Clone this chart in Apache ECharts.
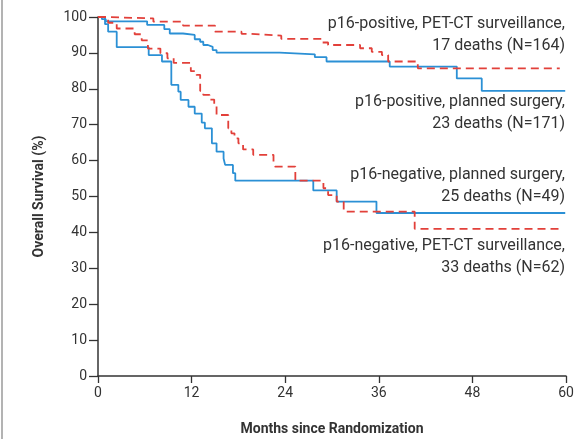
<!DOCTYPE html>
<html>
<head>
<meta charset="utf-8">
<script src="https://cdn.jsdelivr.net/npm/echarts@6/dist/echarts.min.js"></script>
<style>
	html, body { margin: 0; padding: 0; background: #fff; }
	#main { width: 577px; height: 439px; }
</style>
</head>
<body>
<div id="main"></div>
<script>
// x ticks and y ticks
var monthTicks = [0, 12, 24, 36, 48, 60];
var survTicks = [0, 10, 20, 30, 40, 50, 60, 70, 80, 90, 100];

// p16-positive, PET-CT surveillance (red dashed, upper)
var posPetMonths = [0, 1.0, 7.1, 10.9, 15.0, 18.4, 19.5, 23.5, 28.7, 29.5, 33.6, 35.1, 36.4, 37.2, 41.0, 59.2];
var posPetSurv = [100, 99.6, 98.7, 97.6, 95.9, 95.3, 94.8, 93.9, 92.9, 92.2, 91.3, 90.3, 89.4, 87.6, 85.7, 85.7];

// p16-positive, planned surgery (blue solid, upper)
var posSurgMonths = [0, 0.5, 1.0, 6.3, 8.5, 9.2, 10.9, 12.4, 13.1, 13.5, 14.1, 14.7, 15.2, 23.3, 27.8, 29.3, 37.4, 46.0, 49.2, 59.9];
var posSurgSurv = [100, 99.4, 98.8, 97.8, 96.6, 95.4, 95.0, 93.8, 93.1, 92.2, 91.7, 90.8, 90.1, 89.6, 88.8, 87.6, 86.2, 82.9, 79.4, 79.4];

// p16-negative, planned surgery (blue solid, lower)
var negSurgMonths = [0, 0.9, 1.3, 2.4, 6.5, 8.2, 9.4, 10.3, 10.6, 11.6, 12.4, 13.3, 13.7, 14.6, 15.2, 16.1, 16.3, 17.3, 17.6, 27.6, 30.6, 35.7, 59.9];
var negSurgSurv = [100, 98.0, 95.9, 91.6, 89.4, 87.6, 81.1, 79.2, 76.9, 75.0, 73.1, 70.6, 69.0, 64.8, 62.5, 60.6, 58.8, 56.5, 54.4, 51.7, 48.6, 45.4, 45.4];

// p16-negative, PET-CT surveillance (red dashed, lower)
var negPetMonths = [0, 1.3, 2.4, 4.7, 5.6, 6.4, 8.0, 8.9, 9.7, 11.9, 12.6, 13.1, 13.5, 14.3, 14.9, 15.2, 16.7, 17.1, 17.5, 18.0, 18.6, 19.9, 22.5, 22.7, 25.3, 28.9, 29.5, 30.6, 31.5, 40.6, 59.2];
var negPetSurv = [100, 98.4, 96.8, 95.2, 93.5, 91.2, 89.9, 88.5, 87.2, 84.9, 83.9, 79.4, 78.3, 77.0, 75.2, 72.7, 69.0, 67.6, 66.2, 64.8, 63.1, 61.6, 59.7, 58.3, 54.4, 52.3, 50.4, 48.6, 45.8, 41.0, 41.0];

var seriesLabels = [
	['p16-positive, PET-CT surveillance,', '17 deaths (N=164)'],
	['p16-positive, planned surgery,', '23 deaths (N=171)'],
	['p16-negative, planned surgery,', '25 deaths (N=49)'],
	['p16-negative, PET-CT surveillance,', '33 deaths (N=62)']
];

var RED = '#e2403a';
var BLUE = '#2b90d5';
var FONT = 'Roboto, "Noto Sans", sans-serif';

function pairs(xs, ys) {
	var out = [];
	for (var i = 0; i < xs.length; i++) out.push([xs[i], ys[i]]);
	return out;
}

function kmSeries(name, xs, ys, color, dashed) {
	return {
		name : name,
		type : 'line',
		step : 'end',
		symbol : 'none',
		silent : true,
		animation : false,
		data : pairs(xs, ys),
		lineStyle : {
			color : color,
			width : 1.8,
			type : dashed ? [8, 5] : 'solid'
		},
		z : dashed ? 3 : 2
	};
}

// one right-aligned text per line, anchored at the right edge of the plot
function labelLines(lines, y) {
	var out = [];
	for (var i = 0; i < lines.length; i++) {
		out.push({
			type : 'text',
			x : 565,
			y : y + i * 22,
			style : {
				text : lines[i],
				font : '16px ' + FONT,
				fill : '#333',
				align : 'right',
				verticalAlign : 'middle'
			}
		});
	}
	return out;
}

var graphics = [
	// figure frame on the left edge
	{
		type : 'line',
		shape : { x1 : 2, y1 : 0, x2 : 2, y2 : 439 },
		style : { stroke : '#9a9a9a', lineWidth : 1.5 }
	}
].concat(labelLines(seriesLabels[0], 24), labelLines(seriesLabels[1], 102),
	labelLines(seriesLabels[2], 175), labelLines(seriesLabels[3], 246));

var chart = echarts.init(document.getElementById('main'));
var option = {
	backgroundColor : '#fff',
	grid : {
		left : 98,
		right : 11,
		top : 17,
		bottom : 63,
		outerBoundsMode : 'none'
	},
	xAxis : {
		type : 'value',
		min : monthTicks[0],
		max : monthTicks[monthTicks.length - 1],
		interval : 12,
		name : 'Months since Randomization',
		nameLocation : 'middle',
		nameGap : 46,
		nameTextStyle : {
			fontFamily : FONT,
			fontWeight : 'bold',
			fontSize : 14,
			color : '#333'
		},
		axisLine : { lineStyle : { color : '#333', width : 1.5 } },
		axisTick : { show : true, length : 7, lineStyle : { color : '#333', width : 1.3 } },
		axisLabel : { fontFamily : FONT, fontSize : 14, color : '#333', margin : 10 },
		splitLine : { show : false }
	},
	yAxis : {
		type : 'value',
		min : survTicks[0],
		max : survTicks[survTicks.length - 1],
		interval : 10,
		name : 'Overall Survival (%)',
		nameLocation : 'middle',
		nameGap : 52,
		nameTextStyle : {
			fontFamily : FONT,
			fontWeight : 'bold',
			fontSize : 14,
			color : '#333'
		},
		axisLine : { show : true, lineStyle : { color : '#333', width : 1.5 } },
		axisTick : { show : true, length : 9, lineStyle : { color : '#333', width : 1.3 } },
		axisLabel : { fontFamily : FONT, fontSize : 14, color : '#333', margin : 11 },
		splitLine : { show : false }
	},
	series : [
		kmSeries('p16-negative, planned surgery', negSurgMonths, negSurgSurv, BLUE, false),
		kmSeries('p16-positive, planned surgery', posSurgMonths, posSurgSurv, BLUE, false),
		kmSeries('p16-negative, PET-CT surveillance', negPetMonths, negPetSurv, RED, true),
		kmSeries('p16-positive, PET-CT surveillance', posPetMonths, posPetSurv, RED, true)
	],
	graphic : graphics
};
chart.setOption(option);
</script>
</body>
</html>
